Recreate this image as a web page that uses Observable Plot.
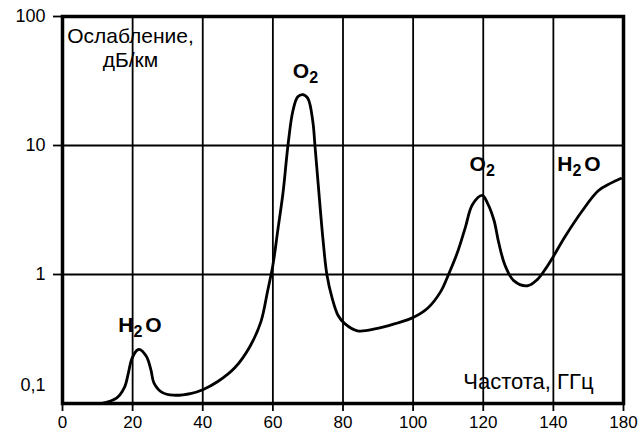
<!DOCTYPE html>
<html><head><meta charset="utf-8">
<script src="https://cdn.jsdelivr.net/npm/d3@7"></script>
<script src="https://cdn.jsdelivr.net/npm/@observablehq/plot@0.6"></script>
<style>
html,body{margin:0;padding:0;background:#fff;}
#chart svg{display:block;}
</style></head><body><div id="chart"></div>
<script>
// Frequency, GHz
const freq = [11.0, 15.4, 17.7, 18.8, 19.7, 21.3, 21.9, 23.9, 25.2, 26.1, 28.4, 31.6, 36.8, 40.0, 44.3, 49.2, 53.5, 56.6, 58.5, 60.0,
  61.4, 62.9, 64.3, 65.7, 67.1, 68.6, 70.0, 71.4, 72.0, 72.9, 74.3, 75.4, 76.9, 78.6, 80.5, 84.1, 89.5, 94.9, 100.0,
  104.2, 107.9, 110.1, 112.7, 114.9, 116.9, 119.7, 121.3, 123.1, 124.4, 126.2, 128.7, 132.6, 135.4, 137.9, 140.0,
  143.3, 148.1, 152.8, 156.4, 159.2];
// Attenuation, dB/km
const atten = [0.100, 0.110, 0.134, 0.173, 0.219, 0.259, 0.263, 0.232, 0.183, 0.144, 0.122, 0.116, 0.120, 0.128, 0.148, 0.190, 0.278, 0.431, 0.746, 1.18,
  2.20, 4.32, 10.0, 18.5, 23.9, 24.8, 23.1, 15.3, 10.0, 5.11, 1.86, 1.00, 0.657, 0.481, 0.416, 0.366, 0.380, 0.416, 0.464,
  0.550, 0.740, 1.00, 1.50, 2.32, 3.47, 4.10, 3.53, 2.61, 1.77, 1.18, 0.896, 0.818, 0.913, 1.12, 1.38,
  1.96, 3.08, 4.46, 5.11, 5.55];

const xTicks = [0, 20, 40, 60, 80, 100, 120, 140, 160];
const xTickLabels = ["0", "20", "40", "60", "80", "100", "120", "140", "180"];
const yTicks = [1, 10, 100];
const yTickLabels = ["1", "10", "100"];
const yLowTicks = [0.1];
const yLowTickLabels = ["0,1"];
const yTitleLines = ["Ослабление,", "дБ/км"];
const xTitle = "Частота, ГГц";
const peakLabels = ["H_2O", "O_2", "O_2", "H_2O"];
const peakX = [15.9, 65.7, 116.1, 141.1];
const peakY = [0.36, 33.4, 6.35, 6.35];

const data = freq.map((f, i) => ({f, a: atten[i]}));
const peaks = peakLabels.map((t, i) => ({t, x: peakX[i], y: peakY[i]}));
const xFmt = new Map(xTicks.map((d, i) => [d, xTickLabels[i]]));
const yFmt = new Map(yTicks.map((d, i) => [d, yTickLabels[i]]));
const yLowFmt = new Map(yLowTicks.map((d, i) => [d, yLowTickLabels[i]]));

const chart = Plot.plot({
  width: 641, height: 434,
  marginLeft: 62, marginRight: 18, marginTop: 16, marginBottom: 31,
  style: {fontFamily: "'Liberation Sans', Arial, sans-serif", fontSize: "18px", color: "#000", background: "#fff"},
  x: {type: "linear", domain: [0, 160], label: null},
  y: {type: "log", domain: [0.1, 100], label: null},
  marks: [
    Plot.gridX(xTicks, {stroke: "#000", strokeOpacity: 1, strokeWidth: 1.8}),
    Plot.gridY(yTicks, {stroke: "#000", strokeOpacity: 1, strokeWidth: 1.8}),
    Plot.axisX(xTicks, {tickSize: 8, tickPadding: 4, tickFormat: d => xFmt.get(d), label: null, fontSize: 17, strokeWidth: 1.8}),
    Plot.axisY(yTicks, {tickSize: 9, tickPadding: 8, tickFormat: d => yFmt.get(d), label: null, fontSize: 18, strokeWidth: 1.8}),
    Plot.axisY(yLowTicks, {tickSize: 0, tickPadding: 17, dy: -18, tickFormat: d => yLowFmt.get(d), label: null, fontSize: 18}),
    Plot.line(data, {x: "f", y: "a", curve: "catmull-rom", stroke: "#000", strokeWidth: 2.8}),
    Plot.frame({stroke: "#000", strokeWidth: 3.5}),
    Plot.text([yTitleLines[0]], {text: d => d, frameAnchor: "top-left", dx: 68, dy: 26, textAnchor: "middle", lineAnchor: "bottom", fontSize: 21}),
    Plot.text([yTitleLines[1]], {text: d => d, frameAnchor: "top-left", dx: 68, dy: 50, textAnchor: "middle", lineAnchor: "bottom", fontSize: 21}),
    Plot.text([xTitle], {text: d => d, frameAnchor: "bottom-right", dx: -30, dy: -15, textAnchor: "end", lineAnchor: "bottom", fontSize: 22}),
    Plot.text(peaks, {x: "x", y: "y", text: "t", textAnchor: "start", lineAnchor: "bottom", fontSize: 21, fontWeight: "bold"})
  ]
});

// render chemical subscripts
d3.select(chart).selectAll("text").each(function() {
  const t = this.textContent;
  if (!t.includes("_")) return;
  const sel = d3.select(this);
  sel.text(null);
  const parts = t.split(/_(\d)/);
  parts.forEach((p, i) => {
    if (!p) return;
    if (i % 2 === 1) {
      sel.append("tspan").attr("dy", 5).attr("dx", 0).attr("font-size", 16).text(p);
    } else {
      const ts = sel.append("tspan").text(p);
      if (i > 0) ts.attr("dy", -5).attr("dx", 3);
    }
  });
});

document.getElementById("chart").appendChild(chart);
</script>
</body></html>
